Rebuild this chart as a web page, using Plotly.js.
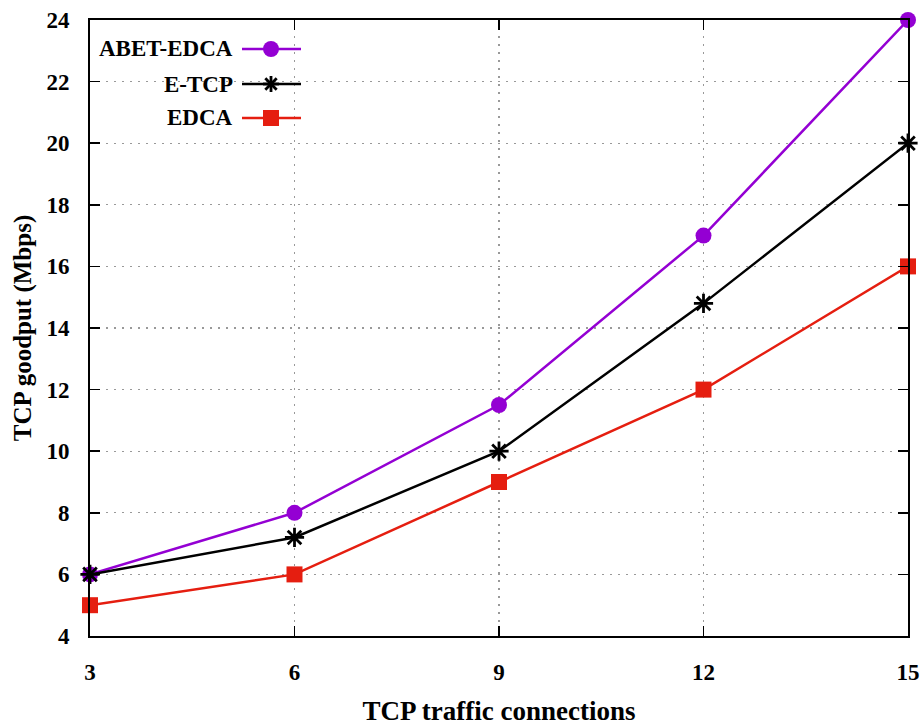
<!DOCTYPE html>
<html>
<head>
<meta charset="utf-8">
<script src="https://cdn.plot.ly/plotly-3.0.1.min.js"></script>
<style>body{margin:0;padding:0;background:#fff;} #chart{width:924px;height:726px;}</style>
</head>
<body>
<div id="chart"></div>
<script>
const connections = [3, 6, 9, 12, 15];
const abetEdca = [6, 8, 11.5, 17, 24];
const eTcp = [6, 7.2, 10, 14.8, 20];
const edca = [5, 6, 9, 12, 16];
const seriesNames = ['ABET-EDCA', 'E-TCP', 'EDCA'];
const xTicks = [3, 6, 9, 12, 15];
const yTicks = [4, 6, 8, 10, 12, 14, 16, 18, 20, 22, 24];

const purple = '#9400d3';
const black = '#000000';
const red = '#e51e10';
const fontFam = '"Liberation Serif", "Times New Roman", serif';

const traces = [
  {x: connections, y: abetEdca, name: seriesNames[0], mode: 'lines+markers', cliponaxis: false,
   line: {color: purple, width: 2.5}, marker: {symbol: 'circle', size: 16, color: purple}},
  {x: connections, y: eTcp, name: seriesNames[1], mode: 'lines+markers', cliponaxis: false,
   line: {color: black, width: 2.5}, marker: {symbol: 'asterisk-open', size: 16, color: black, line: {color: black, width: 2.8}}},
  {x: connections, y: edca, name: seriesNames[2], mode: 'lines+markers', cliponaxis: false,
   line: {color: red, width: 2.5}, marker: {symbol: 'square', size: 16, color: red}}
];

// Custom legend (gnuplot style: text right-aligned, sample to the right)
const W = 924, H = 726, mL = 90, mR = 16, mT = 20, mB = 90;
const pw = W - mL - mR, ph = H - mT - mB;
function px(xp){ return (xp - mL) / pw; }
function py(yp){ return (H - mB - yp) / ph; }
const legRows = [49, 84, 118];
const legColors = [purple, black, red];
const shapes = [];
const annotations = [];
seriesNames.forEach((n, i) => {
  const yy = legRows[i];
  annotations.push({xref: 'paper', yref: 'paper', x: px(235), y: py(yy), xanchor: 'right', yanchor: 'middle',
    text: n, showarrow: false, font: {family: fontFam, size: 23, color: '#000', weight: 'bold'}});
  shapes.push({type: 'line', xref: 'paper', yref: 'paper', x0: px(242), x1: px(301), y0: py(yy), y1: py(yy),
    line: {color: legColors[i], width: 2.5}});
  const cx = 271, r = 8;
  if (i === 0) {
    shapes.push({type: 'circle', xref: 'paper', yref: 'paper', x0: px(cx - r), x1: px(cx + r), y0: py(yy + r), y1: py(yy - r),
      fillcolor: purple, line: {color: purple, width: 0}});
  } else if (i === 1) {
    const a = 8, d = 5.7;
    const segs = [[-a,0,a,0],[0,-a,0,a],[-d,-d,d,d],[-d,d,d,-d]];
    segs.forEach(s => shapes.push({type: 'line', xref: 'paper', yref: 'paper',
      x0: px(cx + s[0]), y0: py(yy + s[1]), x1: px(cx + s[2]), y1: py(yy + s[3]), line: {color: black, width: 2.8}}));
  } else {
    shapes.push({type: 'rect', xref: 'paper', yref: 'paper', x0: px(cx - r), x1: px(cx + r), y0: py(yy + r), y1: py(yy - r),
      fillcolor: red, line: {color: red, width: 0}});
  }
});

const layout = {
  width: W, height: H,
  margin: {l: mL, r: mR, t: mT, b: mB},
  paper_bgcolor: '#fff', plot_bgcolor: '#fff',
  showlegend: false,
  font: {family: fontFam, color: '#000'},
  xaxis: {
    range: [3, 15], tickvals: xTicks, ticktext: xTicks.map(String),
    ticks: 'inside', ticklen: 10, tickwidth: 1.5, tickcolor: '#000',
    showline: true, linecolor: '#000', linewidth: 2, mirror: 'ticks',
    showgrid: true, gridcolor: '#999999', griddash: '2px,6px', gridwidth: 1.3,
    zeroline: false, ticklabelstandoff: 14,
    tickfont: {family: fontFam, size: 23, color: '#000', weight: 'bold'},
    title: {text: 'TCP traffic connections', font: {family: fontFam, size: 27, color: '#000', weight: 'bold'}, standoff: 22}
  },
  yaxis: {
    range: [4, 24], tickvals: yTicks, ticktext: yTicks.map(String),
    ticks: 'inside', ticklen: 10, tickwidth: 1.5, tickcolor: '#000',
    showline: true, linecolor: '#000', linewidth: 2, mirror: 'ticks',
    showgrid: true, gridcolor: '#999999', griddash: '2px,6px', gridwidth: 1.3,
    zeroline: false, ticklabelstandoff: 14,
    tickfont: {family: fontFam, size: 23, color: '#000', weight: 'bold'},
    title: {text: 'TCP goodput (Mbps)', font: {family: fontFam, size: 25, color: '#000', weight: 'bold'}, standoff: 8}
  },
  shapes: shapes,
  annotations: annotations
};

Plotly.newPlot('chart', traces, layout, {displayModeBar: false, staticPlot: true});
</script>
</body>
</html>
